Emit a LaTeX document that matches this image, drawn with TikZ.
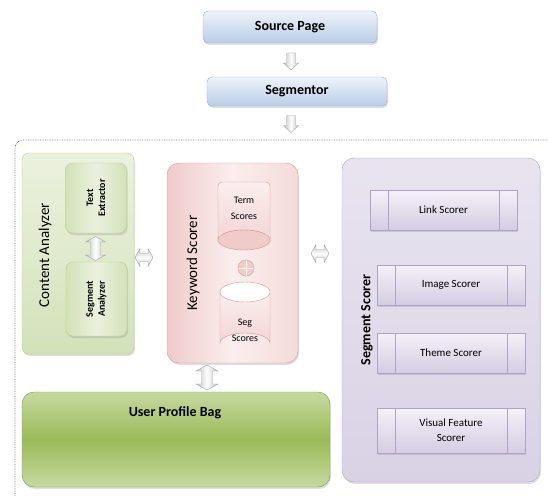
\documentclass[tikz,border=0pt]{standalone}
\usepackage{fontspec}
\setmainfont{Carlito}
\usetikzlibrary{shadows}
\definecolor{blueT}{HTML}{EEF3FA}
\definecolor{blueB}{HTML}{B9CDE5}
\definecolor{blueD}{HTML}{95B3D7}
\definecolor{greenL}{HTML}{EBF1DE}
\definecolor{greenM}{HTML}{D3E1B8}
\definecolor{greenD}{HTML}{B8CF8C}
\definecolor{greenS}{HTML}{9BBB59}
\definecolor{greenU}{HTML}{C6D9A0}
\definecolor{pinkL}{HTML}{FBEEEE}
\definecolor{pinkM}{HTML}{EFCBCA}
\definecolor{pinkD}{HTML}{D99694}
\definecolor{purL}{HTML}{F4F1F8}
\definecolor{purM}{HTML}{D5CCE2}
\definecolor{purD}{HTML}{B3A2C7}
\definecolor{purBg}{HTML}{D9D2E5}
\begin{document}
\begin{tikzpicture}[x=1pt,y=-1pt,
  shad/.style={drop shadow={opacity=0.25,shadow xshift=1pt,shadow yshift=-2pt}},
  topbox/.style={rectangle,rounded corners=5pt,draw=blueD,top color=blueT,bottom color=blueB,
    font=\bfseries\fontsize{14}{16}\selectfont,shad},
  greenbox/.style={rectangle,rounded corners=7pt,draw=greenD,top color=greenL,bottom color=greenM,middle color=greenM!70!white,shad},
  greeninner/.style={rectangle,rounded corners=7pt,draw=greenD,left color=greenM,right color=greenM,middle color=greenL,shad,
    minimum width=61pt},
  pinkbox/.style={rectangle,rounded corners=12pt,draw=pinkD,left color=pinkM,right color=pinkM!70!white,middle color=pinkL,shad},
  purbox/.style={rectangle,rounded corners=12pt,draw=purD,top color=purBg!60!white,bottom color=purBg,shad},
  scorer/.style={rectangle,draw=purD,top color=purL,bottom color=purM,shad,
    font=\fontsize{11}{15}\selectfont,align=center,
    path picture={\draw[purD] ([xshift=18pt]path picture bounding box.north west) -- ([xshift=18pt]path picture bounding box.south west);
      \draw[purD] ([xshift=-18pt]path picture bounding box.north east) -- ([xshift=-18pt]path picture bounding box.south east);}},
  rotlabel/.style={rotate=90,font=\fontsize{15}{17}\selectfont},
  innerlabel/.style={rotate=90,font=\bfseries\fontsize{10}{12}\selectfont,align=center},
  cyltext/.style={font=\fontsize{10}{16}\selectfont,align=center},
  cylbody/.style={draw=pinkD,top color=pinkL,bottom color=pinkM!80!white},
  varrow/.style={draw=gray!70,left color=gray!50,right color=gray!50,middle color=white},
  harrow/.style={draw=gray!70,top color=gray!50,bottom color=gray!50,middle color=white}
]
\clip (0,0) rectangle (548,495);
\fill[white] (0,0) rectangle (548,495);

% top
\node[topbox,minimum width=174pt,minimum height=32pt] (src) at (290,27) {Source Page};
\node[topbox,minimum width=180pt,minimum height=29pt] (seg) at (297,91.5) {Segmentor};
\coordinate (a1) at (291,61.5);
\coordinate (a2) at (291,124);
\foreach \c in {a1,a2}
  \draw[varrow] (\c) ++(-4.5,-8.5) -- ++(9,0) -- ++(0,10) -- ++(3,0) -- ++(-7.5,7) -- ++(-7.5,-7) -- ++(3,0) -- cycle;

% dotted frame
\draw[black!55,line width=0.7pt,dash pattern=on 0.7pt off 1pt,rounded corners=8pt] (15,140) rectangle (600,530);

% content analyzer
\node[greenbox,minimum width=112pt,minimum height=201pt] (ca) at (78,253.5) {};
\node[rotlabel] (cal) at (45,255) {Content Analyzer};
\node[greeninner,minimum height=70pt] (te) at (96,198) {};
\node[innerlabel] (tel) at (te) {Text\\Extractor};
\node[greeninner,minimum height=74pt] (sa) at (96.5,299) {};
\node[innerlabel] (sal) at (sa) {Segment\\Analyzer};

% keyword scorer
\node[pinkbox,minimum width=131pt,minimum height=200pt] (ks) at (232.5,263) {};
\node[rotlabel] (ksl) at (193,263) {Keyword Scorer};
% term scores (ellipse at bottom)
\draw[cylbody,rounded corners=4pt] (218,240) -- (218,182) -- (270,182) -- (270,240);
\draw[cylbody] (270,240) arc[start angle=0,end angle=180,x radius=26pt,y radius=10pt] -- (218,236) -- (270,236) -- cycle;
\fill[pinkL!60!pinkM] (218.5,234) rectangle (269.5,241);
\draw[draw=pinkD,fill=pinkM] (244,240) ellipse[x radius=26pt,y radius=10pt];
\node[cyltext] (terml) at (244,208) {Term\\Scores};
% plus
\node[circle,draw=pinkD,fill=pinkM,minimum size=16pt,inner sep=0pt,
  path picture={\draw[white,line width=1pt] (path picture bounding box.north) -- (path picture bounding box.south);
  \draw[white,line width=1pt] (path picture bounding box.west) -- (path picture bounding box.east);}] (plus) at (246,268) {};
% seg scores (ellipse at top)
\draw[cylbody] (220,292) -- (220,343) arc[start angle=180,end angle=0,x radius=25pt,y radius=10pt] -- (270,292) -- cycle;
\draw[draw=pinkD,fill=white] (245,292) ellipse[x radius=25pt,y radius=10pt];
\node[cyltext] (segsl) at (245,330) {Seg\\Scores};

% segment scorer
\node[purbox,minimum width=198pt,minimum height=324pt] (ss) at (441,320) {};
\node[rotlabel,font=\bfseries\fontsize{14}{16}\selectfont] (ssl) at (367,320) {Segment Scorer};
\node[scorer,minimum width=147pt,minimum height=40pt] (link) at (443.5,210) {Link Scorer};
\node[scorer,minimum width=148pt,minimum height=40pt] (img) at (451,285) {Image Scorer};
\node[scorer,minimum width=148pt,minimum height=40pt] (theme) at (451,353) {Theme Scorer};
\node[scorer,minimum width=148pt,minimum height=45pt] (vis) at (451,430.5) {Visual Feature\\Scorer};

% user profile bag
\node[rectangle,rounded corners=12pt,draw=greenS!80!black,top color=greenU,bottom color=greenU,middle color=greenS,shad,
  minimum width=308pt,minimum height=95pt] (upb) at (176,439.5) {};
\node[font=\bfseries\fontsize{14}{16}\selectfont] (upbl) at (175,413) {User Profile Bag};

% block double arrows
\coordinate (d1) at (95.5,248.5);
\coordinate (v1) at (207,377.5);
\draw[varrow] (d1) ++(0,-12) -- ++(10,5.5) -- ++(-5,0) -- ++(0,13) -- ++(5,0) -- ++(-10,5.5) -- ++(-10,-5.5) -- ++(5,0) -- ++(0,-13) -- ++(-5,0) -- cycle;
\draw[varrow] (v1) ++(0,-12.5) -- ++(11,6) -- ++(-5.5,0) -- ++(0,13) -- ++(5.5,0) -- ++(-11,6) -- ++(-11,-6) -- ++(5.5,0) -- ++(0,-13) -- ++(-5.5,0) -- cycle;
\coordinate (h1) at (144,257.5);
\coordinate (h2) at (320,253.5);
\foreach \c in {h1,h2}
  \draw[harrow] (\c) ++(-9,0) -- ++(5,-9) -- ++(0,5) -- ++(8,0) -- ++(0,-5) -- ++(5,9) -- ++(-5,9) -- ++(0,-5) -- ++(-8,0) -- ++(0,5) -- cycle;
\end{tikzpicture}
\end{document}
